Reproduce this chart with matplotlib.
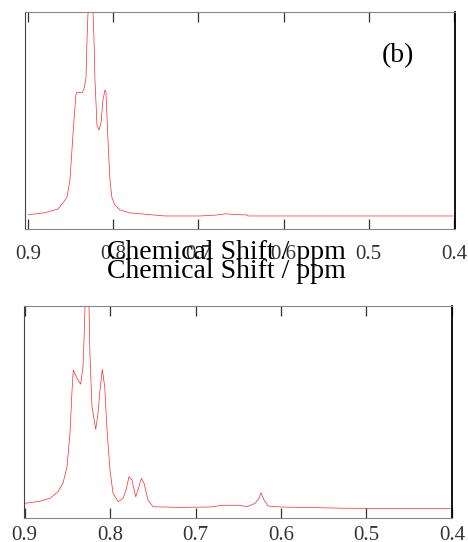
import numpy as np
import matplotlib
matplotlib.use("Agg")
import matplotlib.pyplot as plt

# chemical shift (ppm) and normalised intensity
shift_b = [0.900, 0.880, 0.8648, 0.8589, 0.8542, 0.8507, 0.8484, 0.8460, 0.8437,
           0.8425, 0.8366, 0.8343, 0.8319, 0.8307, 0.8295, 0.8265, 0.8237, 0.8225,
           0.8214, 0.8190, 0.8167, 0.8143, 0.8120, 0.8096, 0.8085, 0.8061, 0.8038,
           0.8014, 0.7979, 0.7920, 0.7803, 0.7392, 0.6981, 0.6800, 0.6676, 0.6550,
           0.6430, 0.6420, 0.5500, 0.4012]
inten_b = [0.065, 0.075, 0.092, 0.120, 0.147, 0.226, 0.364, 0.502, 0.618,
           0.631, 0.627, 0.645, 0.696, 0.871, 1.000, 1.400, 1.000, 0.871,
           0.690, 0.479, 0.456, 0.488, 0.594, 0.641, 0.631, 0.410, 0.226,
           0.143, 0.110, 0.088, 0.074, 0.060, 0.060, 0.064, 0.070, 0.066,
           0.065, 0.060, 0.060, 0.060]

shift_c = [0.900, 0.8819, 0.8702, 0.8608, 0.8550, 0.8503, 0.8468, 0.8444, 0.8429,
           0.8386, 0.8343, 0.8316, 0.8304, 0.8292, 0.8270, 0.8246, 0.8234, 0.8211,
           0.8167, 0.8140, 0.8117, 0.8090, 0.8062, 0.8035, 0.8000, 0.7965, 0.7906,
           0.7848, 0.7813, 0.7778, 0.7743, 0.7699, 0.7673, 0.7634, 0.7602, 0.7556,
           0.7497, 0.7181, 0.6830, 0.6678, 0.6480, 0.6398, 0.6304, 0.6257, 0.6234,
           0.6199, 0.6152, 0.6012, 0.5252, 0.4000]
inten_c = [0.069, 0.079, 0.093, 0.124, 0.164, 0.242, 0.400, 0.604, 0.698,
           0.659, 0.631, 0.714, 0.840, 1.000, 1.400, 1.000, 0.761, 0.525,
           0.418, 0.494, 0.604, 0.701, 0.619, 0.415, 0.226, 0.117, 0.077,
           0.093, 0.132, 0.195, 0.179, 0.100, 0.132, 0.187, 0.164, 0.085,
           0.053, 0.050, 0.052, 0.060, 0.060, 0.053, 0.069, 0.093, 0.119,
           0.085, 0.057, 0.052, 0.046, 0.044]

xticks = [0.9, 0.8, 0.7, 0.6, 0.5, 0.4]
xlabel = "Chemical Shift / ppm"
serif = ["Liberation Serif", "DejaVu Serif"]

fig = plt.figure(figsize=(4.68, 5.42), dpi=100)
ax_top = fig.add_axes([0.0534, 0.5775, 0.9188, 0.4004])
ax_bot = fig.add_axes([0.0513, 0.0443, 0.9145, 0.3911])


def style(ax, xlim, pad):
    ax.set_xlim(*xlim)
    ax.set_ylim(0, 1)
    ax.set_yticks([])
    ax.set_xticks(xticks)
    ax.set_xticklabels([f"{t:.1f}" for t in xticks], family=serif, fontsize=15)
    ax.tick_params(axis="x", direction="in", top=True, length=7, width=0.9,
                   colors="#333333", pad=pad)
    for side in ["top", "bottom"]:
        ax.spines[side].set_color("#888888")
    ax.spines["left"].set_color("#444444")
    ax.spines["right"].set_color("black")
    ax.spines["right"].set_linewidth(1.3)


ax_top.plot(shift_b, inten_b, color="red", lw=0.5, alpha=0.85)
style(ax_top, (0.9035, 0.3988), 11.5)
ax_top.text(0.867, 0.77, "(b)", transform=ax_top.transAxes, ha="center",
            va="baseline", family=serif, fontsize=20)

ax_bot.plot(shift_c, inten_c, color="red", lw=0.5, alpha=0.85)
style(ax_bot, (0.9006, 0.4), 6)

# the label appears twice in the original, slightly offset
fig.text(0.484, 0.5221, xlabel, ha="center", va="baseline", family=serif, fontsize=20)
fig.text(0.484, 0.4871, xlabel, ha="center", va="baseline", family=serif, fontsize=20)

fig.savefig("out.png", dpi=100)
